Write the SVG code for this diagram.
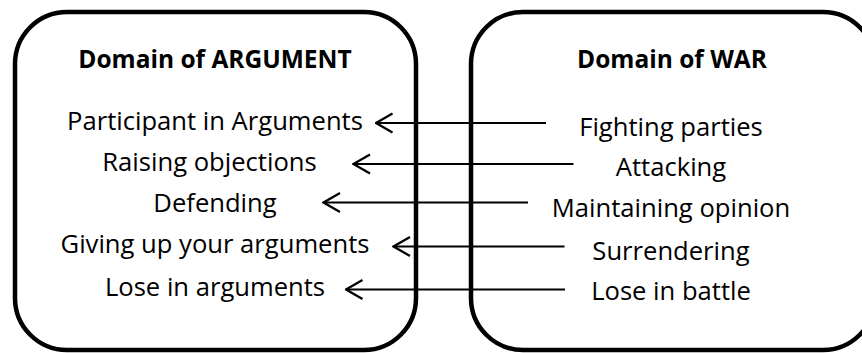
<svg xmlns="http://www.w3.org/2000/svg" width="862" height="353" viewBox="0 0 862 353">
  <style>
    .domain { fill: #ffffff; stroke: #000000; stroke-width: 4.5; }
    .title { font-family: "Open Sans", "Noto Sans", sans-serif; font-weight: bold; font-size: 24.5px; fill: #000; text-anchor: middle; }
    .item { font-family: "Open Sans", "Noto Sans", sans-serif; font-size: 25.6px; fill: #000; text-anchor: middle; }
    .link { fill: none; stroke: #000; stroke-width: 2.2; marker-start: url(#chevron); }
  </style>
  <defs>
    <!-- open "<" head, fixed orientation: every link runs right-to-left -->
    <marker id="chevron" markerUnits="userSpaceOnUse" viewBox="0 0 20 22" refX="1.5" refY="11" markerWidth="20" markerHeight="22" orient="0">
      <path d="M18 1.5 L1.5 11 L18 20.5" fill="none" stroke="#000" stroke-width="2.2"/>
    </marker>
  </defs>

  <!-- Source domain: ARGUMENT -->
  <g id="domain-argument">
    <rect class="domain" x="15" y="12" width="401" height="338" rx="52" ry="52"/>
    <text class="title" x="215" y="68">Domain of ARGUMENT</text>
    <text class="item" x="215" y="129.5">Participant in Arguments</text>
    <text class="item" x="209.5" y="170.5">Raising objections</text>
    <text class="item" x="215" y="211.5">Defending</text>
    <text class="item" x="215" y="252.5">Giving up your arguments</text>
    <text class="item" x="215" y="295.5">Lose in arguments</text>
  </g>

  <!-- Target domain: WAR -->
  <g id="domain-war">
    <rect class="domain" x="471" y="12" width="404" height="338" rx="52" ry="52"/>
    <text class="title" x="672" y="68">Domain of WAR</text>
    <text class="item" x="671" y="136">Fighting parties</text>
    <text class="item" x="671" y="176">Attacking</text>
    <text class="item" x="671" y="217">Maintaining opinion</text>
    <text class="item" x="671" y="259.5">Surrendering</text>
    <text class="item" x="671" y="300">Lose in battle</text>
  </g>

  <!-- Mapping arrows, WAR concept to ARGUMENT concept -->
  <g id="connectors">
    <line class="link" x1="376" y1="123" x2="546" y2="123"/>
    <line class="link" x1="353.5" y1="164" x2="573.5" y2="164"/>
    <line class="link" x1="323.5" y1="202.5" x2="528" y2="202.5"/>
    <line class="link" x1="393.5" y1="246.5" x2="564.5" y2="246.5"/>
    <line class="link" x1="346" y1="289.5" x2="565" y2="289.5"/>
  </g>
</svg>
